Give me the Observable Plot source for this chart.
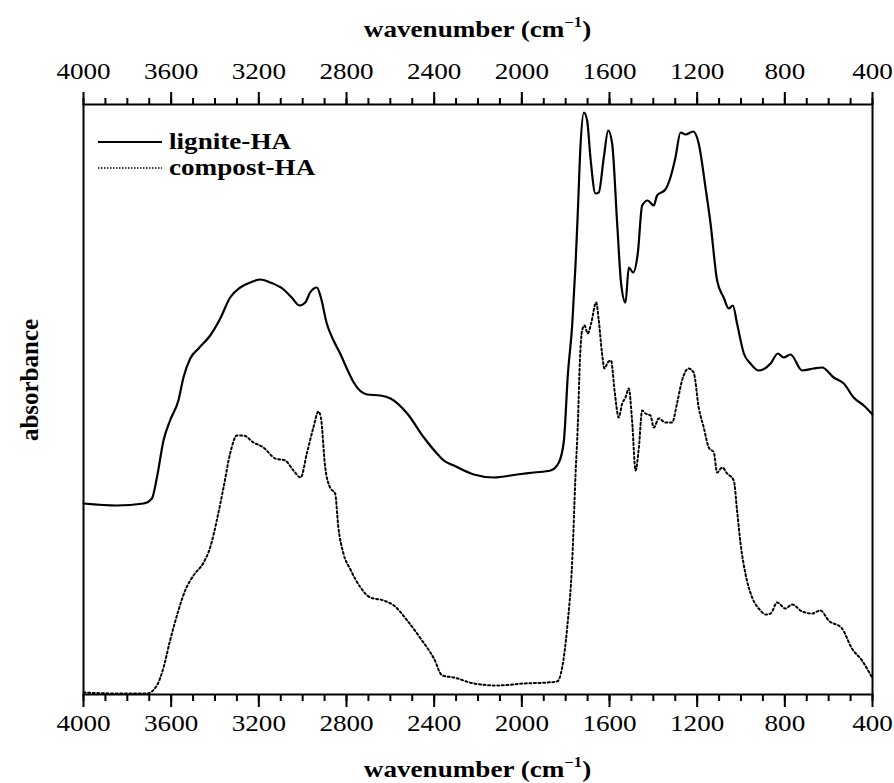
<!DOCTYPE html>
<html>
<head>
<meta charset="utf-8">
<script src="https://cdn.jsdelivr.net/npm/d3@7"></script>
<script src="https://cdn.jsdelivr.net/npm/@observablehq/plot@0.6"></script>
<style>
  html, body { margin: 0; padding: 0; background: #fff; }
  #chart svg { display: block; }
</style>
</head>
<body>
<div id="chart"></div>
<script>
// ---- data (absorbance in arbitrary units) ----
const seriesNames = ["lignite-HA", "compost-HA"];

const wnLignite = [4000, 3848, 3726, 3688, 3665, 3635, 3605, 3567, 3544, 3513, 3475, 3422, 3376, 3331, 3285, 3239, 3194, 3148, 3087, 3050, 3014, 2988, 2966, 2935, 2917, 2890, 2859, 2827, 2790, 2767, 2706, 2645, 2599, 2523, 2447, 2379, 2356, 2310, 2219, 2128, 2021, 1945, 1869, 1831, 1808, 1790, 1770, 1755, 1745, 1732, 1717, 1702, 1687, 1664, 1649, 1626, 1606, 1588, 1565, 1547, 1527, 1512, 1492, 1471, 1451, 1426, 1398, 1383, 1345, 1322, 1299, 1276, 1253, 1218, 1193, 1162, 1139, 1109, 1079, 1056, 1037, 1018, 987, 957, 919, 865, 832, 805, 774, 721, 668, 630, 577, 531, 486, 440, 400];
const absLignite = [191, 189, 191, 196, 217, 254, 274, 294, 317, 336, 346, 359, 376, 397, 407, 412, 415, 412, 405, 397, 389, 392, 402, 407, 397, 371, 354, 340, 322, 312, 300, 299, 296, 281, 257, 239, 234, 229, 220, 217, 220, 222, 224, 232, 254, 320, 370, 430, 480, 550, 582, 574, 537, 501, 502, 537, 564, 551, 471, 411, 392, 427, 422, 441, 489, 494, 489, 499, 505, 517, 537, 562, 560, 563, 551, 507, 471, 414, 397, 386, 389, 371, 341, 331, 324, 331, 341, 337, 340, 324, 326, 327, 317, 311, 297, 289, 280];

const wnCompost = [4000, 3849, 3711, 3665, 3635, 3605, 3567, 3536, 3498, 3452, 3422, 3392, 3361, 3331, 3300, 3270, 3224, 3179, 3125, 3080, 3042, 3009, 2981, 2951, 2928, 2917, 2897, 2875, 2852, 2837, 2814, 2782, 2736, 2691, 2630, 2584, 2523, 2462, 2401, 2363, 2310, 2219, 2113, 1991, 1884, 1839, 1816, 1793, 1770, 1755, 1745, 1735, 1725, 1714, 1699, 1684, 1661, 1649, 1634, 1623, 1608, 1593, 1577, 1558, 1542, 1527, 1512, 1497, 1481, 1466, 1451, 1436, 1413, 1398, 1375, 1345, 1314, 1292, 1269, 1239, 1216, 1193, 1170, 1147, 1124, 1109, 1086, 1063, 1033, 1018, 1002, 980, 949, 911, 888, 865, 835, 797, 767, 721, 676, 638, 600, 539, 494, 448, 402];
const absCompost = [2, 1, 1, 9, 27, 54, 84, 104, 119, 132, 147, 174, 207, 241, 259, 259, 252, 247, 236, 234, 224, 217, 241, 267, 283, 277, 227, 207, 201, 167, 141, 125, 107, 97, 94, 89, 74, 56, 36, 19, 17, 11, 9, 11, 12, 13, 27, 67, 134, 220, 267, 334, 364, 369, 361, 371, 392, 374, 341, 326, 332, 334, 304, 277, 291, 297, 306, 274, 224, 247, 284, 281, 279, 267, 276, 272, 272, 291, 314, 326, 322, 287, 267, 247, 242, 222, 227, 221, 214, 184, 151, 121, 97, 84, 80, 81, 92, 86, 90, 83, 81, 84, 74, 66, 46, 34, 17];

const majorTicks = [4000, 3600, 3200, 2800, 2400, 2000, 1600, 1200, 800, 400];
const minorTicks = d3.range(4000, 399, -100);
const xDomain = [4000, 400];
const yDomain = [0, 590];

const lignite = wnLignite.map((w, i) => ({wn: w, a: absLignite[i], s: seriesNames[0]}));
const compost = wnCompost.map((w, i) => ({wn: w, a: absCompost[i], s: seriesNames[1]}));

const fontFam = "'Liberation Serif', 'Times New Roman', serif";
const axisOpts = {strokeWidth: 2, label: null, tickFormat: d => String(d)};
const dotted = "2,2.6";

const plot = Plot.plot({
  width: 894,
  height: 783,
  marginLeft: 83,
  marginRight: 22,
  marginTop: 104,
  marginBottom: 89,
  x: {domain: xDomain, label: null},
  y: {domain: yDomain, axis: null},
  style: {fontFamily: fontFam, fontSize: "23px", color: "#000", background: "#fff", overflow: "visible"},
  marks: [
    Plot.axisX({...axisOpts, anchor: "bottom", ticks: majorTicks, tickSize: 13, tickPadding: 7}),
    Plot.axisX({...axisOpts, anchor: "bottom", ticks: minorTicks, tickSize: 7, text: null}),
    Plot.axisX({...axisOpts, anchor: "top", ticks: majorTicks, tickSize: 13, tickPadding: 13}),
    Plot.axisX({...axisOpts, anchor: "top", ticks: minorTicks, tickSize: 7, text: null}),
    Plot.line(compost, {x: "wn", y: "a", stroke: "#000", strokeWidth: 2, strokeDasharray: dotted, curve: "monotone-x"}),
    Plot.line(lignite, {x: "wn", y: "a", stroke: "#000", strokeWidth: 2.2, curve: "monotone-x"}),
    Plot.frame({stroke: "#000", strokeWidth: 2})
  ]
});

document.getElementById("chart").appendChild(plot);

const svg = d3.select(plot);
const stretch = 1.18;

// stretch tick labels horizontally
svg.selectAll("text").each(function() {
  const len = this.getComputedTextLength();
  if (len > 0) {
    this.setAttribute("textLength", len * stretch);
    this.setAttribute("lengthAdjust", "spacingAndGlyphs");
  }
});

// axis titles
function axisTitle(cx, y) {
  const g = svg.append("g").attr("transform", `translate(${cx},${y}) scale(${stretch},1)`);
  const t = g.append("text")
    .attr("text-anchor", "middle")
    .attr("font-family", fontFam)
    .attr("font-weight", "bold")
    .attr("font-size", 23)
    .attr("fill", "#000");
  t.append("tspan").text("wavenumber (cm");
  t.append("tspan").attr("dy", -10).attr("font-size", 14).text("\u22121");
  t.append("tspan").attr("dy", 10).text(")");
}
const cx = (83 + 872) / 2;
axisTitle(cx, 37);
axisTitle(cx, 777);

svg.append("text")
  .attr("transform", "translate(38,380) rotate(-90)")
  .attr("text-anchor", "middle")
  .attr("font-family", fontFam)
  .attr("font-weight", "bold")
  .attr("font-size", 25)
  .attr("fill", "#000")
  .text("absorbance");

// legend
const legend = [
  {name: seriesNames[0], y: 142, dash: null, w: 2.2},
  {name: seriesNames[1], y: 168, dash: "1.5,1.5", w: 1.6}
];
legend.forEach(d => {
  const l = svg.append("line")
    .attr("x1", 98).attr("x2", 162).attr("y1", d.y).attr("y2", d.y)
    .attr("stroke", "#000").attr("stroke-width", d.w);
  if (d.dash) l.attr("stroke-dasharray", d.dash);
  const t = svg.append("text")
    .attr("x", 169).attr("y", d.y + 7)
    .attr("text-anchor", "start")
    .attr("font-family", fontFam)
    .attr("font-weight", "bold")
    .attr("font-size", 23)
    .attr("fill", "#000")
    .text(d.name);
  const len = t.node().getComputedTextLength();
  t.attr("textLength", len * stretch).attr("lengthAdjust", "spacingAndGlyphs");
});
</script>
</body>
</html>
